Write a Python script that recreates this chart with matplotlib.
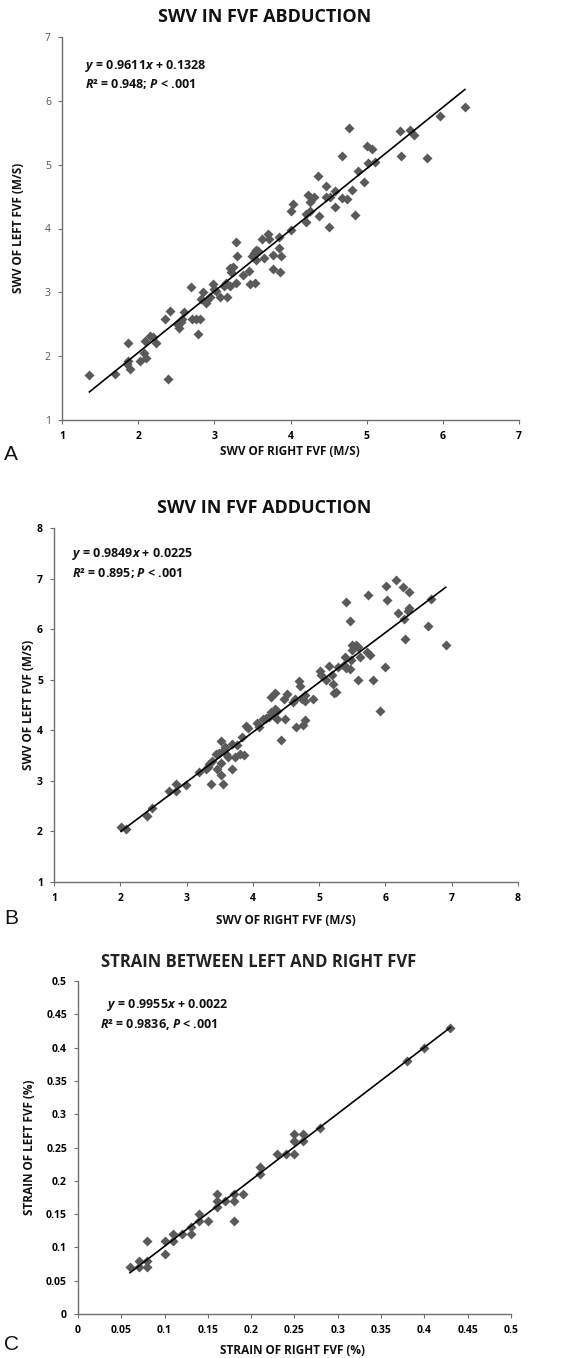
import matplotlib
matplotlib.use("Agg")
import matplotlib.pyplot as plt
import numpy as np

plt.rcParams['font.family'] = ['Open Sans', 'DejaVu Sans']
plt.rcParams['mathtext.fontset'] = 'custom'
plt.rcParams['mathtext.rm'] = 'Open Sans'
plt.rcParams['mathtext.bf'] = 'Open Sans:bold'
plt.rcParams['mathtext.it'] = 'Open Sans:italic:bold'
plt.rcParams['mathtext.bfit'] = 'Open Sans:italic:bold'

# ---------------- data ----------------
a_right = [1.36, 1.69, 1.85, 1.87, 1.87, 1.89, 2.02, 2.10, 2.08, 2.09, 2.16, 2.20, 2.24, 2.35, 2.42,
           2.39, 2.51, 2.54, 2.56, 2.58, 2.60, 2.70, 2.71, 2.76, 2.81, 2.79, 2.83, 2.85, 2.89, 2.90,
           2.94, 2.98, 2.99, 3.02, 3.07, 3.13, 3.15, 3.17, 3.21, 3.20, 3.24, 3.22, 3.28, 3.30, 3.29,
           3.37, 3.46, 3.47, 3.49, 3.52, 3.55, 3.55, 3.54, 3.57, 3.62, 3.65, 3.71, 3.72, 3.77, 3.77,
           3.85, 3.85, 3.88, 3.86, 4.00, 4.03, 4.01, 4.21, 4.20, 4.26, 4.26, 4.23, 4.31, 4.36, 4.37,
           4.51, 4.47, 4.47, 4.52, 4.58, 4.59, 4.68, 4.74, 4.81, 4.85, 4.68, 4.77, 4.88, 4.96, 5.00,
           5.07, 5.02, 5.11, 5.44, 5.45, 5.57, 5.62, 5.79, 5.96, 6.29]
a_left = [1.71, 1.72, 1.87, 1.93, 2.21, 1.80, 1.93, 1.97, 2.05, 2.24, 2.31, 2.30, 2.20, 2.59, 2.71,
          1.65, 2.50, 2.44, 2.53, 2.59, 2.69, 3.09, 2.58, 2.58, 2.58, 2.35, 2.89, 3.01, 2.83, 2.88,
          2.92, 3.13, 3.05, 3.02, 2.92, 3.10, 3.15, 2.93, 3.10, 3.38, 3.39, 3.32, 3.79, 3.57, 3.14,
          3.27, 3.34, 3.13, 3.57, 3.62, 3.66, 3.50, 3.15, 3.65, 3.83, 3.54, 3.92, 3.84, 3.59, 3.36,
          3.86, 3.69, 3.57, 3.32, 3.98, 4.39, 4.27, 4.10, 4.22, 4.27, 4.41, 4.53, 4.49, 4.82, 4.19,
          4.03, 4.67, 4.50, 4.49, 4.58, 4.34, 4.47, 4.46, 4.60, 4.21, 5.14, 5.58, 4.90, 4.73, 5.29,
          5.24, 5.02, 5.04, 5.53, 5.14, 5.54, 5.46, 5.10, 5.76, 5.91]
a_slope, a_icept = 0.9611, 0.1328

b_right = [2.01, 2.09, 2.40, 2.48, 2.74, 2.84, 2.84, 2.99, 3.19, 3.30, 3.33, 3.37, 3.34, 3.39, 3.46,
           3.45, 3.49, 3.52, 3.52, 3.52, 3.55, 3.55, 3.58, 3.60, 3.63, 3.68, 3.69, 3.73, 3.76, 3.80,
           3.87, 3.83, 3.90, 3.92, 4.06, 4.10, 4.16, 4.20, 4.24, 4.28, 4.36, 4.37, 4.42, 4.49, 4.65,
           4.76, 4.79, 5.92, 4.27, 4.34, 4.51, 4.47, 4.63, 4.69, 4.71, 4.78, 4.79, 4.91, 4.30, 4.33,
           4.60, 4.74, 5.01, 5.03, 5.10, 5.15, 5.20, 5.21, 5.23, 5.26, 5.28, 5.37, 5.41, 5.46, 5.39,
           5.48, 5.50, 5.49, 5.55, 5.58, 5.61, 5.72, 5.76, 5.59, 5.81, 5.99, 5.47, 5.41, 5.74, 6.01,
           6.03, 6.16, 6.27, 6.36, 6.19, 6.36, 6.34, 6.28, 6.30, 6.64, 6.68, 6.91]
b_left = [2.08, 2.04, 2.30, 2.46, 2.79, 2.93, 2.79, 2.92, 3.18, 3.23, 3.28, 2.93, 3.34, 3.39, 3.23,
          3.53, 3.56, 3.78, 3.36, 3.12, 2.93, 3.59, 3.66, 3.54, 3.47, 3.23, 3.72, 3.47, 3.70, 3.53,
          3.51, 3.86, 4.09, 4.04, 4.15, 4.07, 4.22, 4.25, 4.26, 4.37, 4.39, 4.22, 3.80, 4.22, 4.07,
          4.11, 4.21, 4.38, 4.66, 4.74, 4.72, 4.62, 4.62, 4.97, 4.87, 4.69, 4.58, 4.62, 4.30, 4.42,
          4.55, 4.62, 5.17, 5.09, 5.00, 5.27, 5.09, 4.91, 4.74, 4.75, 5.26, 5.30, 5.24, 5.21, 5.44,
          5.38, 5.59, 5.68, 5.69, 5.65, 5.44, 5.54, 5.48, 4.99, 4.99, 5.26, 6.16, 6.54, 6.68, 6.85,
          6.58, 6.97, 6.83, 6.74, 6.31, 6.41, 6.36, 6.21, 5.81, 6.07, 6.60, 5.69]
b_slope, b_icept = 0.9849, 0.0225

c_right = [0.06, 0.07, 0.07, 0.08, 0.08, 0.08, 0.10, 0.10, 0.11, 0.11, 0.12, 0.13, 0.13, 0.14, 0.14,
           0.15, 0.16, 0.16, 0.16, 0.17, 0.18, 0.18, 0.18, 0.19, 0.21, 0.21, 0.23, 0.24, 0.25, 0.25,
           0.25, 0.26, 0.26, 0.28, 0.38, 0.40, 0.43]
c_left = [0.07, 0.08, 0.07, 0.11, 0.08, 0.07, 0.11, 0.09, 0.12, 0.11, 0.12, 0.13, 0.12, 0.15, 0.14,
          0.14, 0.18, 0.17, 0.16, 0.17, 0.18, 0.17, 0.14, 0.18, 0.22, 0.21, 0.24, 0.24, 0.24, 0.26,
          0.27, 0.27, 0.26, 0.28, 0.38, 0.40, 0.43]
c_slope, c_icept = 0.9955, 0.0022

W, H = 571, 1358
fig = plt.figure(figsize=(W / 100, H / 100), dpi=100)

def px_axes(l, t, r, b):
    return fig.add_axes([l / W, 1 - b / H, (r - l) / W, (b - t) / H])

def ftext(x, y, s, **kw):
    fig.text(x / W, 1 - y / H, s, **kw)

MARK = '#5a5a5a'
SPINE = '#6f6f6f'

def style(ax, xlim, ylim, xt, yt, xfmt, yfmt, xcol, ycol, xbold, ybold):
    ax.set_xlim(*xlim)
    ax.set_ylim(*ylim)
    for s in ['top', 'right']:
        ax.spines[s].set_visible(False)
    for s in ['left', 'bottom']:
        ax.spines[s].set_color(SPINE)
        ax.spines[s].set_linewidth(1.0)
    ax.set_xticks(xt)
    ax.set_yticks(yt)
    ax.set_xticklabels([xfmt(v) for v in xt], fontsize=7.5, color=xcol,
                       fontweight='bold' if xbold else 'normal')
    ax.set_yticklabels([yfmt(v) for v in yt], fontsize=7.5, color=ycol,
                       fontweight='bold' if ybold else 'normal')
    ax.tick_params(axis='both', direction='out', length=3, width=0.8, color=SPINE, pad=5)
    ax.patch.set_visible(False)

def fitline(ax, xs, slope, icept):
    xx = np.array([min(xs), max(xs)])
    ax.plot(xx, slope * xx + icept, color='black', lw=1.2, zorder=3)

# ---------------- Panel A ----------------
axA = px_axes(62, 37, 519, 420)
axA.plot(a_right, a_left, 'D', color=MARK, ms=5.0, mec='none', zorder=2)
fitline(axA, a_right, a_slope, a_icept)
style(axA, (1, 7), (1, 7), range(1, 8), range(1, 8), lambda v: f"{v}", lambda v: f"{v}",
      'black', '#555555', True, False)
ftext(265, 17, 'SWV IN FVF ABDUCTION', ha='center', va='center', fontsize=13,
      fontweight='bold', color='#111111')
ftext(85, 66, r'$\mathbfit{y}$ = 0.9611$\mathbfit{x}$ + 0.1328', ha='left', va='center',
      fontsize=9, fontweight='bold', color='#111111')
ftext(85, 84, r'$\mathbfit{R}$² = 0.948; $\mathbfit{P}$ < .001', ha='left', va='center',
      fontsize=9, fontweight='bold', color='#111111')
ftext(290, 452, 'SWV OF RIGHT FVF (M/S)', ha='center', va='center', fontsize=8.5,
      fontweight='bold', color='#111111')
ftext(19, 228, 'SWV OF LEFT FVF (M/S)', ha='center', va='center', fontsize=8.5,
      fontweight='bold', color='#111111', rotation=90)
ftext(4, 455, 'A', ha='left', va='center', fontsize=15, color='#111111',
      family=['Liberation Sans'])

# ---------------- Panel B ----------------
axB = px_axes(54, 528, 518, 882)
axB.plot(b_right, b_left, 'D', color=MARK, ms=5.0, mec='none', zorder=2)
fitline(axB, b_right, b_slope, b_icept)
style(axB, (1, 8), (1, 8), range(1, 9), range(1, 9), lambda v: f"{v}", lambda v: f"{v}",
      'black', 'black', True, True)
ftext(264, 508, 'SWV IN FVF ADDUCTION', ha='center', va='center', fontsize=13,
      fontweight='bold', color='#111111')
ftext(72, 554, r'$\mathbfit{y}$ = 0.9849$\mathbfit{x}$ + 0.0225', ha='left', va='center',
      fontsize=9, fontweight='bold', color='#111111')
ftext(72, 573, r'$\mathbfit{R}$² = 0.895; $\mathbfit{P}$ < .001', ha='left', va='center',
      fontsize=9, fontweight='bold', color='#111111')
ftext(286, 921, 'SWV OF RIGHT FVF (M/S)', ha='center', va='center', fontsize=8.5,
      fontweight='bold', color='#111111')
ftext(29, 705, 'SWV OF LEFT FVF (M/S)', ha='center', va='center', fontsize=8.5,
      fontweight='bold', color='#111111', rotation=90)
ftext(4, 918, 'B', ha='left', va='center', fontsize=15, color='#111111',
      family=['Liberation Sans'])

# ---------------- Panel C ----------------
axC = px_axes(78, 981, 511, 1314)
axC.plot(c_right, c_left, 'D', color=MARK, ms=5.2, mec='none', zorder=2)
fitline(axC, c_right, c_slope, c_icept)
ticks_c = [i * 0.05 for i in range(11)]
fmt_c = lambda v: ('0' if abs(v) < 1e-9 else f"{v:.2f}".rstrip('0'))
style(axC, (0, 0.5), (0, 0.5), ticks_c, ticks_c, fmt_c, fmt_c, 'black', 'black', True, True)
ftext(259, 962, 'STRAIN BETWEEN LEFT AND RIGHT FVF', ha='center', va='center', fontsize=12,
      fontweight='bold', color='#222222')
ftext(107, 1005, r'$\mathbfit{y}$ = 0.9955$\mathbfit{x}$ + 0.0022', ha='left', va='center',
      fontsize=9, fontweight='bold', color='#111111')
ftext(100, 1024, r'$\mathbfit{R}$² = 0.9836, $\mathbfit{P}$ < .001', ha='left', va='center',
      fontsize=9, fontweight='bold', color='#111111')
ftext(293, 1350, 'STRAIN OF RIGHT FVF (%)', ha='center', va='center', fontsize=8.5,
      fontweight='bold', color='#111111')
ftext(30, 1147, 'STRAIN OF LEFT FVF (%)', ha='center', va='center', fontsize=8.5,
      fontweight='bold', color='#111111', rotation=90)
ftext(4, 1345, 'C', ha='left', va='center', fontsize=15, color='#111111',
      family=['Liberation Sans'])

fig.savefig('out.png', dpi=100)
